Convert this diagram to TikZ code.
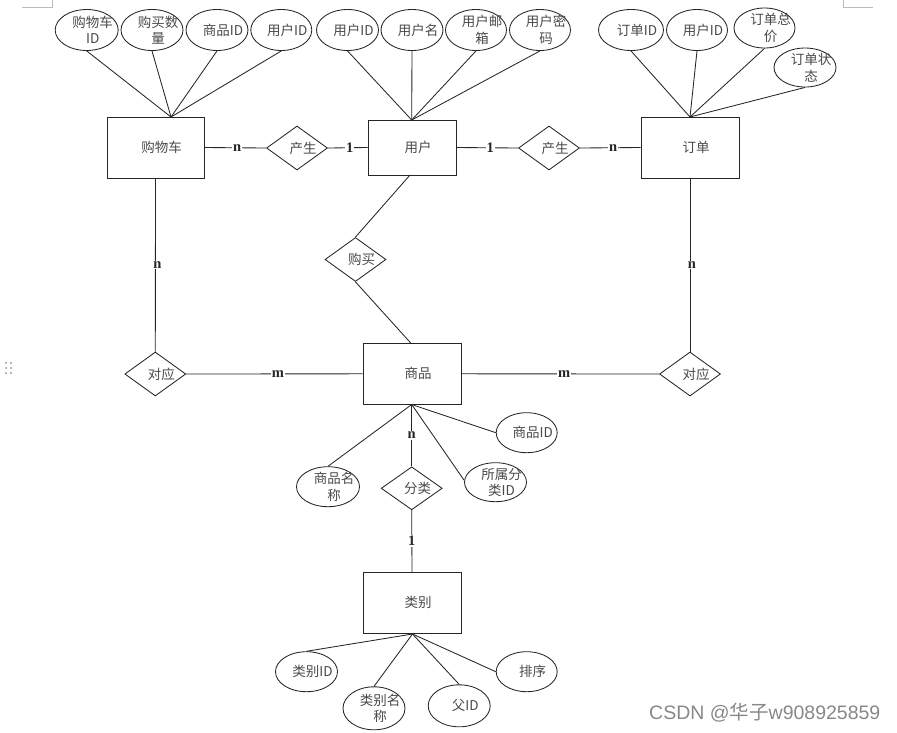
\documentclass[tikz,border=0pt]{standalone}
\usepackage{fontspec}
\setmainfont{Noto Sans CJK SC}
\newfontfamily\latf{Liberation Serif}
\newfontfamily\wmfont{Liberation Sans}
\usetikzlibrary{shapes.geometric}
\definecolor{txtgray}{HTML}{4A4A4A}
\definecolor{linegray}{HTML}{262626}
\definecolor{markgray}{HTML}{BBBBBB}
\definecolor{wmgray}{HTML}{888888}
\tikzset{
  conn/.style={draw=linegray, line width=0.85pt},
  entity/.style={draw=linegray, line width=0.95pt, rectangle, minimum width=98pt, minimum height=61pt, inner sep=0pt},
  rel/.style={draw=linegray, line width=0.85pt, diamond, minimum width=61pt, minimum height=44pt, inner sep=0pt},
  attr/.style={draw=linegray, line width=0.85pt, ellipse, minimum width=62pt, minimum height=41pt, inner sep=0pt},
  lbl/.style={text=txtgray, font=\fontsize{13.5}{16.5}\selectfont, align=center, inner sep=0pt, xshift=6pt},
  card/.style={fill=white, inner sep=1pt, font=\latf\bfseries\fontsize{14.5}{14.5}\selectfont, text=black!85},
  cornermark/.style={draw=markgray, line width=0.6pt}
}
\begin{document}
\begin{tikzpicture}[x=1pt,y=-1pt]
\useasboundingbox (0,0) rectangle (897,732);
% page corner marks
\draw[cornermark] (22,7) -- (52,7) -- (52,0);
\draw[cornermark] (843,0) -- (843,7) -- (873,7);
% drag handle dots
\foreach \yy in {363,368,373} { \fill[markgray!60!black] (6,\yy) circle (0.9); \fill[markgray!60!black] (11,\yy) circle (0.9); }

% entities
\node[entity, minimum width=97pt] (cart) at (155.5,147.5) {};
\node[lbl] at (cart) {购物车};
\node[entity, minimum width=88pt, minimum height=55pt] (user) at (412,147.5) {};
\node[lbl] at (user) {用户};
\node[entity] (order) at (690,147.5) {};
\node[lbl] at (order) {订单};
\node[entity] (goods) at (412,373.8) {};
\node[lbl] at (goods) {商品};
\node[entity] (cat) at (412,602.8) {};
\node[lbl] at (cat) {类别};

% relationships
\node[rel] (gen1) at (297,148) {};
\node[lbl] at (gen1) {产生};
\node[rel] (gen2) at (549,148) {};
\node[lbl] at (gen2) {产生};
\node[rel] (buy) at (355.5,259.5) {};
\node[lbl] at (buy) {购买};
\node[rel] (corL) at (155.3,374) {};
\node[lbl] at (corL) {对应};
\node[rel] (corR) at (690,374) {};
\node[lbl] at (corR) {对应};
\node[rel, minimum height=43pt] (cls) at (411.7,488.3) {};
\node[lbl] at (cls) {分类};

% attributes of cart
\node[attr, minimum width=63pt] (c1) at (86.7,30) {};
\node[lbl] at (c1) {购物车\\ID};
\node[attr] (c2) at (152,30) {};
\node[lbl] at (c2) {购买数\\量};
\node[attr] (c3) at (217,30) {};
\node[lbl] at (c3) {商品ID};
\node[attr, minimum width=61pt] (c4) at (281.3,30) {};
\node[lbl] at (c4) {用户ID};
\coordinate (cartTop) at (171,117);

% attributes of user
\node[attr] (u1) at (347.5,30) {};
\node[lbl] at (u1) {用户ID};
\node[attr] (u2) at (412,30) {};
\node[lbl] at (u2) {用户名};
\node[attr, minimum width=61pt] (u3) at (476,30) {};
\node[lbl] at (u3) {用户邮\\箱};
\node[attr, minimum width=61pt] (u4) at (540,30) {};
\node[lbl] at (u4) {用户密\\码};
\coordinate (userTop) at (411.7,120);

% attributes of order
\node[attr, minimum width=65pt] (o1) at (631,30) {};
\node[lbl] at (o1) {订单ID};
\node[attr, minimum width=61pt] (o2) at (697,30) {};
\node[lbl] at (o2) {用户ID};
\node[attr, minimum width=61pt, minimum height=40pt] (o3) at (764.5,28) {};
\node[lbl] at (o3) {订单总\\价};
\node[attr, minimum width=62pt, minimum height=39pt] (o4) at (805,67.5) {};
\node[lbl] at (o4) {订单状\\态};
\coordinate (orderTop) at (690,117);

% attributes of goods
\coordinate (goodsBot) at (411.7,404.5);
\node[attr, minimum width=63pt, minimum height=40pt] (g1) at (328,486.7) {};
\node[lbl] at (g1) {商品名\\称};
\node[attr, minimum width=61pt, minimum height=40pt] (g2) at (526.7,432.7) {};
\node[lbl] at (g2) {商品ID};
\node[attr, minimum width=62pt, minimum height=39pt] (g3) at (495.5,482.2) {};
\node[lbl] at (g3) {所属分\\类ID};

% attributes of category
\coordinate (catBot) at (412.5,634);
\node[attr, minimum width=62pt, minimum height=40pt] (k1) at (306.5,671.7) {};
\node[lbl] at (k1) {类别ID};
\node[attr, minimum width=62pt, minimum height=43pt] (k2) at (374,708.3) {};
\node[lbl] at (k2) {类别名\\称};
\node[attr, minimum width=62pt, minimum height=42pt] (k3) at (459.2,705.8) {};
\node[lbl] at (k3) {父ID};
\node[attr, minimum width=61pt, minimum height=40pt] (k4) at (526.7,671.7) {};
\node[lbl] at (k4) {排序};

% attribute connectors
\foreach \a in {c1,c2,c3,c4} \draw[conn] (\a.south) -- (cartTop);
\foreach \a in {u1,u2,u3,u4} \draw[conn] (\a.south) -- (userTop);
\foreach \a in {o1,o2,o3,o4} \draw[conn] (\a.south) -- (orderTop);
\draw[conn] (g1.north) -- (goodsBot);
\draw[conn] (g2.west) -- (goodsBot);
\draw[conn] (g3.west) ++(0,-2) -- (goodsBot);
\draw[conn] (k1.north) -- (catBot);
\draw[conn] (k2.north) -- (catBot);
\draw[conn] (k3.north) -- (catBot);
\draw[conn] (k4.west) -- (catBot);

% relationship connectors with cardinalities
\draw[conn] (cart.east) -- node[card, pos=0.53] {n} (gen1.west);
\draw[conn] (gen1.east) -- node[card, pos=0.55] {1} (user.west);
\draw[conn] (user.east) -- node[card, pos=0.55] {1} (gen2.west);
\draw[conn] (gen2.east) -- node[card, pos=0.55] {n} (order.west);
\draw[conn] (cart.south) -- node[card, pos=0.5, xshift=2pt] {n} (corL.north);
\draw[conn] (order.south) -- node[card, pos=0.5, xshift=2pt] {n} (corR.north);
\draw[conn] (corL.east) -- node[card, pos=0.52] {m} (goods.west);
\draw[conn] (goods.east) -- node[card, pos=0.52] {m} (corR.west);
\coordinate (userBot) at (410,175);
\coordinate (goodsTop) at (411,343.3);
\draw[conn] (userBot) -- (buy.north);
\draw[conn] (buy.south) -- (goodsTop);
\draw[conn] (goodsBot) -- node[card, pos=0.5] {n} (cls.north);
\draw[conn] (cls.south) -- node[card, pos=0.5] {1} (cat.north);

% watermark
\node[text=wmgray, font=\fontsize{19.5}{19.5}\selectfont, anchor=west, inner sep=0pt] (wm) at (649,713) {{\wmfont CSDN @}华子{\wmfont w908925859}};
\end{tikzpicture}
\end{document}
